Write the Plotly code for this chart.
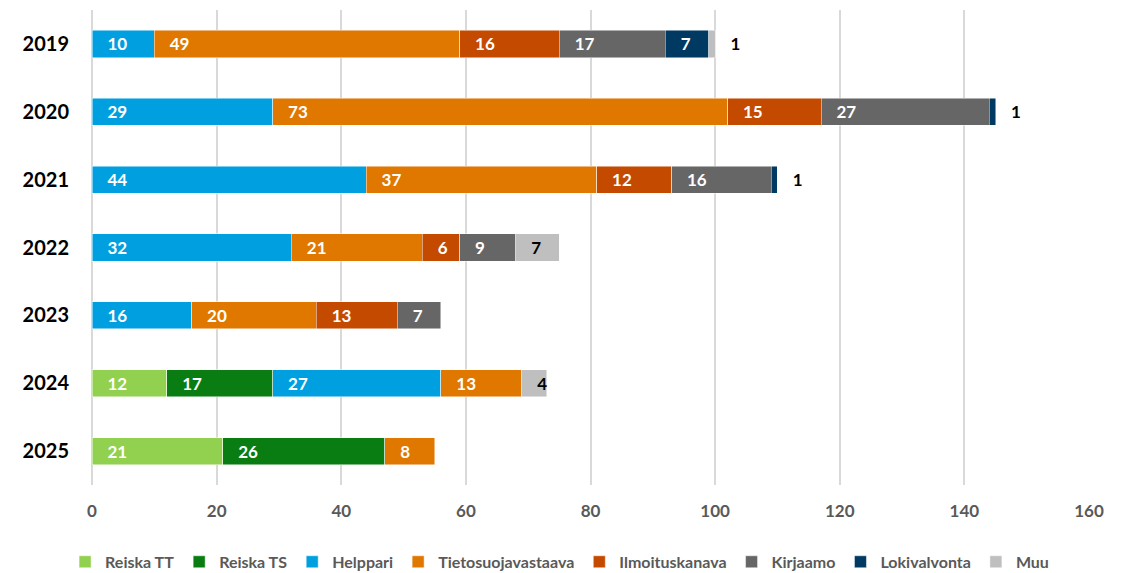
import plotly.graph_objects as go

years = ["2019", "2020", "2021", "2022", "2023", "2024", "2025"]
series_names = ["Reiska TT", "Reiska TS", "Helppari", "Tietosuojavastaava",
                "Ilmoituskanava", "Kirjaamo", "Lokivalvonta", "Muu"]
reiska_tt = [None, None, None, None, None, 12, 21]
reiska_ts = [None, None, None, None, None, 17, 26]
helppari = [10, 29, 44, 32, 16, 27, None]
tietosuoja = [49, 73, 37, 21, 20, 13, 8]
ilmoitus = [16, 15, 12, 6, 13, None, None]
kirjaamo = [17, 27, 16, 9, 7, None, None]
lokivalvonta = [7, 1, 1, None, None, None, None]
muu = [1, None, None, 7, None, 4, None]

values = [reiska_tt, reiska_ts, helppari, tietosuoja, ilmoitus, kirjaamo, lokivalvonta, muu]
colors = ["#92D050", "#0A7D12", "#00A0E0", "#E07800", "#C44A00", "#666666", "#003A63", "#BFBFBF"]
label_colors = ["white"] * 7 + ["black"]

fig = go.Figure()
for idx, (name, vals, col, lc) in enumerate(zip(series_names, values, colors, label_colors)):
    positions = []
    for i, v in enumerate(vals):
        # small trailing segments get their label outside the bar end
        last = all(values[k][i] is None for k in range(idx + 1, len(values)))
        positions.append("outside" if (v is not None and v <= 1 and last) else "inside")
    fig.add_trace(go.Bar(
        name=name, y=years, x=vals, orientation="h",
        marker=dict(color=col, line=dict(color="rgba(255,255,255,0.6)", width=0.8)),
        texttemplate="\u00a0\u00a0\u00a0%{x}",
        textposition=positions,
        textangle=0,
        insidetextanchor="start",
        constraintext="none",
        insidetextfont=dict(family="Lato", size=17, color=lc, weight="bold"),
        outsidetextfont=dict(family="Lato", size=17, color="black", weight="bold"),
        cliponaxis=False,
        hoverinfo="x+name",
    ))

fig.update_layout(
    barmode="stack",
    bargap=0.6,
    width=1119, height=565,
    margin=dict(l=84, r=38, t=2, b=88, autoexpand=False),
    plot_bgcolor="white", paper_bgcolor="white",
    xaxis=dict(range=[0, 160], dtick=20, showgrid=True, gridcolor="#D9D9D9", gridwidth=2,
               zeroline=True, zerolinecolor="#D9D9D9", zerolinewidth=2,
               tickfont=dict(family="Lato", size=17, color="#595959", weight="bold"),
               ticks="", showline=False, fixedrange=True, automargin=False,
               ticklabelstandoff=14),
    yaxis=dict(type="category", autorange="reversed", automargin=False,
               tickfont=dict(family="Lato", size=20, color="black", weight="bold"),
               ticks="", ticklabelstandoff=22, showline=False, showgrid=False),
    legend=dict(orientation="h", x=0.469, xanchor="center", y=-0.126, yanchor="top",
                font=dict(family="Lato", size=16, color="#595959", weight="bold"),
                itemwidth=30, traceorder="normal", tracegroupgap=0),
    font=dict(family="Lato"),
)

fig.write_html("out.html")
